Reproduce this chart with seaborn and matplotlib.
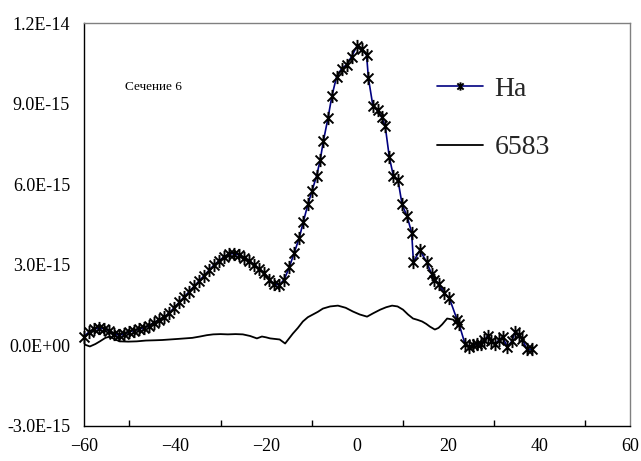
import numpy as np
import pandas as pd
import matplotlib
matplotlib.use("Agg")
import matplotlib.pyplot as plt
import seaborn as sns
from matplotlib.path import Path
from matplotlib.ticker import FuncFormatter, MultipleLocator

# ---------------- data (y in units of 1e-15) ----------------
ha_x = [-60.0, -58.9, -57.8, -56.7, -55.6, -54.5, -53.4, -52.3, -51.2, -50.1,
        -49.0, -47.9, -46.8, -45.7, -44.6, -43.5, -42.4, -41.3, -40.2, -39.1,
        -38.0, -36.9, -35.8, -34.7, -33.6, -32.5, -31.4, -30.3, -29.2, -28.1,
        -27.0, -25.9, -24.8, -23.7, -22.6, -21.5, -20.4, -19.3, -18.2, -17.1,
        -16.0, -14.9, -13.8, -12.7, -11.8, -10.8, -9.9, -8.9, -8.1, -7.4,
        -6.4, -5.5, -4.5, -3.4, -2.3, -1.2, 0.0, 1.1, 2.1, 2.5,
        3.5, 4.5, 5.4, 6.2, 7.1, 8.0, 9.0, 9.9, 11.0, 12.0,
        12.4, 13.8, 15.3, 16.4, 17.0, 17.9, 19.2, 20.3, 22.0, 22.4,
        23.7, 24.6, 25.5, 26.4, 27.2, 28.0, 28.7, 29.5, 30.3, 31.2,
        32.0, 33.0, 34.0, 34.7, 35.5, 36.3, 37.3, 38.4]
ha_y = [0.33, 0.50, 0.60, 0.65, 0.62, 0.55, 0.42, 0.38, 0.42, 0.50,
        0.55, 0.60, 0.66, 0.74, 0.85, 0.95, 1.05, 1.20, 1.40, 1.60,
        1.80, 2.00, 2.20, 2.40, 2.60, 2.80, 3.00, 3.15, 3.30, 3.40,
        3.42, 3.36, 3.25, 3.15, 3.00, 2.85, 2.70, 2.45, 2.28, 2.25,
        2.45, 2.90, 3.45, 4.00, 4.60, 5.25, 5.75, 6.30, 6.90, 7.60,
        8.45, 9.30, 10.00, 10.30, 10.45, 10.75, 11.15, 11.05, 10.80, 9.95,
        8.90, 8.75, 8.50, 8.15, 7.00, 6.30, 6.15, 5.25, 4.80, 4.20,
        3.10, 3.55, 3.10, 2.65, 2.45, 2.30, 1.95, 1.75, 0.95, 0.80,
        0.07, -0.05, 0.00, 0.05, 0.05, 0.20, 0.35, 0.15, 0.05, 0.20,
        0.30, -0.05, 0.15, 0.50, 0.40, 0.25, -0.15, -0.15]

n_x = [-60.0, -58.7, -57.5, -56.5, -55.3, -54.3, -53.2, -52.1, -50.3, -48.4,
       -46.4, -44.4, -42.8, -41.1, -39.4, -37.8, -36.2, -34.5, -33.0, -31.6,
       -30.0, -28.4, -26.7, -25.1, -23.5, -22.0, -20.9, -20.0, -19.1, -17.0,
       -15.8, -14.1, -13.0, -11.9, -10.8, -9.7, -8.6, -7.5, -5.9, -4.2,
       -2.5, -0.9, 0.6, 2.2, 3.6, 5.1, 6.4, 7.7, 8.9, 10.1,
       11.2, 12.3, 13.3, 14.3, 15.2, 16.0, 17.1, 17.9, 18.7, 19.8,
       21.1, 21.8]
n_y = [0.04, -0.04, 0.05, 0.15, 0.28, 0.33, 0.22, 0.15, 0.14, 0.15,
       0.18, 0.19, 0.20, 0.22, 0.24, 0.26, 0.28, 0.33, 0.38, 0.41,
       0.42, 0.41, 0.42, 0.41, 0.35, 0.26, 0.33, 0.30, 0.26, 0.22,
       0.07, 0.44, 0.65, 0.89, 1.05, 1.15, 1.25, 1.37, 1.45, 1.48,
       1.40, 1.26, 1.15, 1.07, 1.20, 1.33, 1.42, 1.48, 1.45, 1.33,
       1.15, 1.00, 0.95, 0.89, 0.80, 0.70, 0.59, 0.65, 0.78, 1.00,
       0.96, 0.81]

series_names = ["Ha", "6583"]
x_ticks = [-60, -40, -20, 0, 20, 40, 60]
y_ticks = [-3e-15, 0.0, 3e-15, 6e-15, 9e-15, 1.2e-14]
annotation = "Сечение 6"

scale = 1e-15
df_ha = pd.DataFrame({"x": ha_x, "y": np.array(ha_y) * scale})
df_n = pd.DataFrame({"x": n_x, "y": np.array(n_y) * scale})

# ---------------- style ----------------
sns.set_theme(style="white")
plt.rcParams["font.family"] = ["Liberation Serif", "DejaVu Serif"]

fig = plt.figure(figsize=(6.41, 4.61), dpi=100)
ax = fig.add_axes([0.131, 0.076, 0.852, 0.874])

star = Path([(0, -1), (0, 1), (-0.75, -0.75), (0.75, 0.75), (-0.75, 0.75), (0.75, -0.75)],
            [Path.MOVETO, Path.LINETO, Path.MOVETO, Path.LINETO, Path.MOVETO, Path.LINETO])

sns.lineplot(data=df_ha, x="x", y="y", ax=ax, sort=False, estimator=None,
             color="#000080", linewidth=1.2, marker=star, markersize=9.5,
             markeredgecolor="black", markeredgewidth=1.4,
             label=series_names[0], clip_on=False, zorder=3)
sns.lineplot(data=df_n, x="x", y="y", ax=ax, sort=False, estimator=None,
             color="black", linewidth=1.3, label=series_names[1], zorder=2)

ax.set_xlim(x_ticks[0], x_ticks[-1])
ax.set_ylim(y_ticks[0], y_ticks[-1])
ax.set_xticks(x_ticks)
ax.xaxis.set_minor_locator(MultipleLocator(10))
ax.set_yticks(y_ticks)
ax.yaxis.set_major_formatter(FuncFormatter(lambda v, p: f"{v:.1E}"))
ax.set_xlabel("")
ax.set_ylabel("")

ax.tick_params(axis="both", which="major", direction="in", length=5, width=1,
               color="black", labelsize=13, labelcolor="black")
ax.tick_params(axis="x", which="minor", direction="in", length=4, width=1,
               color="black", bottom=True)
ax.tick_params(axis="y", which="major", pad=10)
ax.tick_params(axis="x", which="major", pad=9)

for side in ["left", "bottom"]:
    ax.spines[side].set_color("black")
    ax.spines[side].set_linewidth(1.0)
for side in ["top", "right"]:
    ax.spines[side].set_color("#808080")
    ax.spines[side].set_linewidth(1.0)

ax.text(0.075, 0.841, annotation, transform=ax.transAxes, fontsize=9.5,
        ha="left", va="center", color="black")

leg = ax.legend(loc="upper left", bbox_to_anchor=(0.647, 0.868), frameon=False,
                fontsize=20, handlelength=1.65, handletextpad=0.4,
                labelspacing=1.2, borderpad=0, borderaxespad=0, numpoints=1)
for h in leg.legend_handles:
    h.set_markersize(6)

fig.savefig("out.png", dpi=100)
